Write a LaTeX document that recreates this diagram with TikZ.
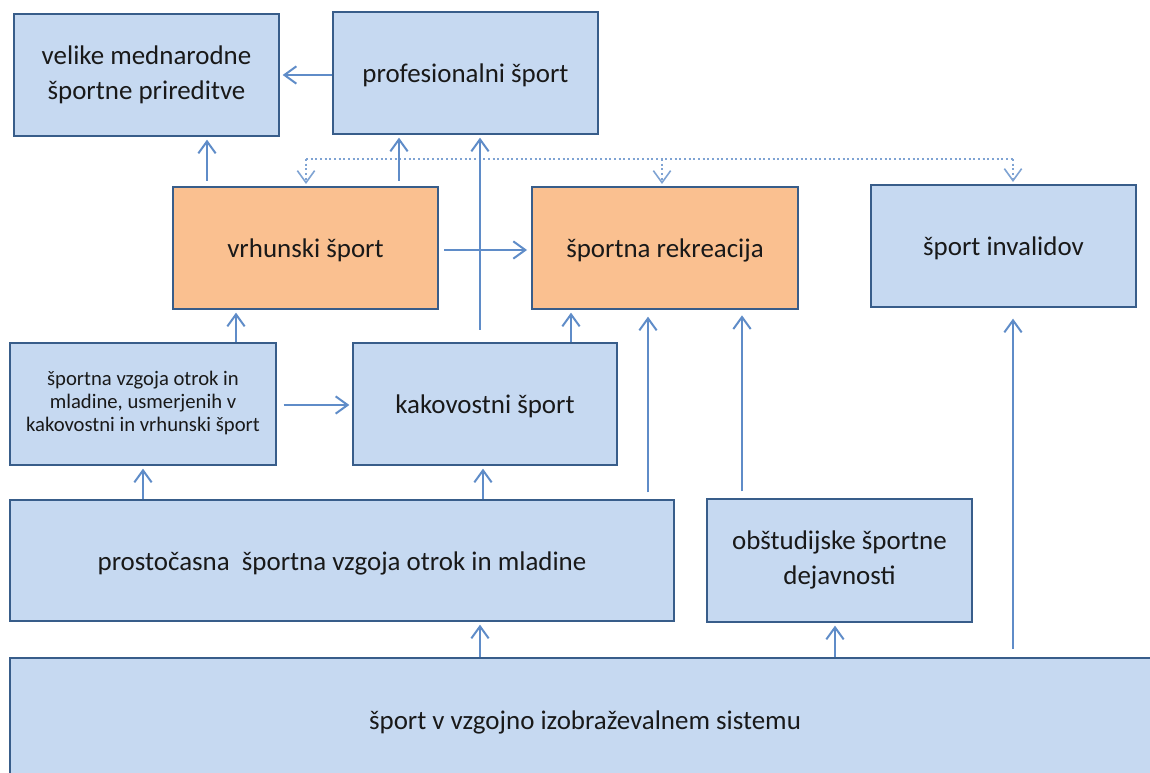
\documentclass[tikz,border=0pt]{standalone}
\usepackage{fontspec}
\setmainfont{Carlito}
\usetikzlibrary{arrows.meta}
\definecolor{boxfill}{RGB}{198,217,241}
\definecolor{boxline}{RGB}{56,93,138}
\definecolor{orfill}{RGB}{250,192,144}
\definecolor{arrcol}{RGB}{95,140,200}
\definecolor{txtcol}{RGB}{25,25,25}
\tikzset{
  bx/.style 2 args={draw=boxline, line width=1.5pt, fill=boxfill, minimum width=#1*0.75pt, minimum height=#2*0.75pt, inner sep=0pt, align=center, text=txtcol, font=\fontsize{20.2}{26}\selectfont, execute at begin node={\rule[-4pt]{0pt}{22.5pt}}},
  orbx/.style={fill=orfill},
  small/.style={font=\fontsize{15.5}{17}\selectfont, execute at begin node={\rule[-3pt]{0pt}{15pt}}},
  arr/.style={draw=arrcol, line width=1.5pt, -{Straight Barb[length=9pt,width=13pt,line width=1.5pt]}},
  dotl/.style={draw=arrcol!80, line width=1.5pt, dotted},
  dotarr/.style={draw=arrcol!80, line width=1.5pt, dotted, -{Straight Barb[length=9pt,width=13pt,line width=1.2pt]}},
}
\begin{document}
\begin{tikzpicture}[x=0.75pt,y=-0.75pt]
\useasboundingbox (0,0) rectangle (1150,773);
\clip (0,0) rectangle (1150,773);
% boxes
\node[bx={265}{122}] (vel) at (146.5,75) {velike mednarodne\\športne prireditve};
\node[bx={265}{122}] (pro) at (465.5,73) {profesionalni šport};
\node[bx={265}{122},orbx] (vrh) at (305.5,248) {vrhunski šport};
\node[bx={266}{122},orbx] (rek) at (665,248) {športna rekreacija};
\node[bx={265}{122}] (inv) at (1003.5,246) {šport invalidov};
\node[bx={266}{122},small] (vzg) at (143,404) {športna vzgoja otrok in\\mladine, usmerjenih v\\kakovostni in vrhunski šport};
\node[bx={264}{122}] (kak) at (485,404) {kakovostni šport};
\node[bx={664}{121}] (pros) at (342,560.5) {prostočasna\ \ športna vzgoja otrok in mladine};
\node[bx={265}{123}] (obs) at (839.5,560.5) {obštudijske športne\\dejavnosti};
\node[bx={1150}{124}] (bot) at (585,720) {šport v vzgojno izobraževalnem sistemu};
% helper coordinates
\coordinate (x143) at (143,0);
\coordinate (x207) at (207,0);
\coordinate (x236) at (236,0);
\coordinate (x306) at (306,0);
\coordinate (x399) at (399,0);
\coordinate (x480) at (480,0);
\coordinate (x483) at (483,0);
\coordinate (x571) at (571,0);
\coordinate (x648) at (648,0);
\coordinate (x662) at (662,0);
\coordinate (x742) at (742,0);
\coordinate (x835) at (835,0);
\coordinate (x1013) at (1013,0);
\coordinate (y75) at (0,75);
\coordinate (y250) at (0,250);
\coordinate (y405) at (0,405);
\coordinate (dl) at (480,159);
% dotted distribution line
\draw[dotl] (dl -| x306) -- (dl -| x1013);
\draw[dotarr, shorten >=1.5pt] (dl -| x306) -- (vrh.north -| x306);
\draw[dotarr, shorten >=1.5pt] (dl -| x662) -- (rek.north -| x662);
\draw[dotarr, shorten >=1.5pt] (dl -| x1013) -- (inv.north -| x1013);
% arrows
\draw[arr, shorten <=0pt, shorten >=2pt] (pro.west |- y75) -- (vel.east |- y75);
\draw[arr, shorten <=4pt, shorten >=2pt] (vrh.north -| x207) -- (vel.south -| x207);
\draw[arr, shorten <=4pt, shorten >=2pt] (vrh.north -| x399) -- (pro.south -| x399);
\draw[arr, shorten <=9pt, shorten >=2pt] (kak.north -| x480) -- (pro.south -| x480);
\draw[arr, shorten <=4pt, shorten >=3pt] (vrh.east |- y250) -- (rek.west |- y250);
\draw[arr, shorten >=2pt] (vzg.north -| x236) -- (vrh.south -| x236);
\draw[arr, shorten <=5pt, shorten >=2pt] (vzg.east |- y405) -- (kak.west |- y405);
\draw[arr, shorten >=2pt] (kak.north -| x571) -- (rek.south -| x571);
\draw[arr, shorten <=5pt, shorten >=5pt] (pros.north -| x648) -- (rek.south -| x648);
\draw[arr, shorten <=5pt, shorten >=4pt] (obs.north -| x742) -- (rek.south -| x742);
\draw[arr, shorten <=6pt, shorten >=8pt] (bot.north -| x1013) -- (inv.south -| x1013);
\draw[arr, shorten >=2pt] (pros.north -| x143) -- (vzg.south -| x143);
\draw[arr, shorten >=2pt] (pros.north -| x483) -- (kak.south -| x483);
\draw[arr, shorten >=2pt] (bot.north -| x480) -- (pros.south -| x480);
\draw[arr, shorten >=2pt] (bot.north -| x835) -- (obs.south -| x835);
\end{tikzpicture}
\end{document}
